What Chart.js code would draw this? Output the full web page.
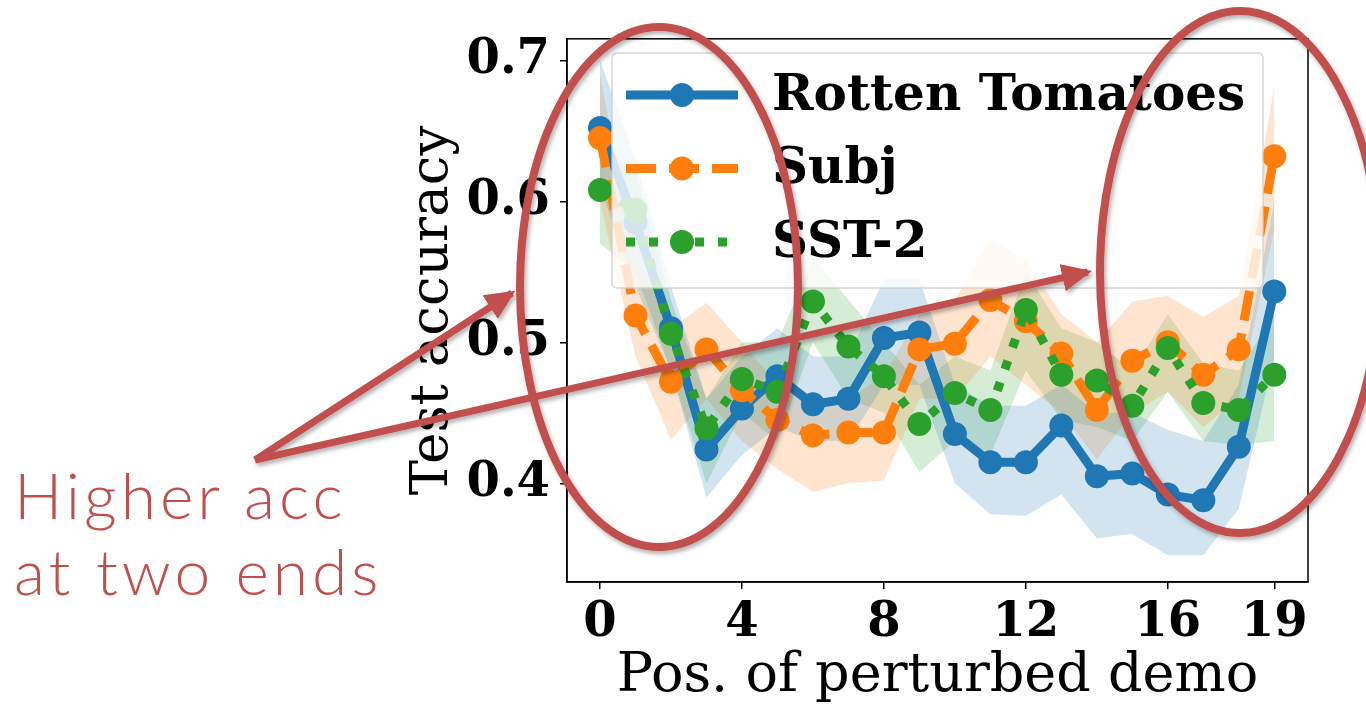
<!DOCTYPE html>
<html>
<head>
<meta charset="utf-8">
<script src="https://cdn.jsdelivr.net/npm/chart.js@4.4.1/dist/chart.umd.min.js"></script>
<style>
  html, body { margin: 0; padding: 0; background: #fff; }
  #wrap { position: relative; width: 1366px; height: 704px; overflow: hidden; }
  #accChart { position: absolute; left: 0; top: 0; }
  #notes { position: absolute; left: 0; top: 0; pointer-events: none; }
  #callout {
    position: absolute; left: 14px; top: 457px;
    font-family: "Lato", "Open Sans", sans-serif; font-weight: 300;
    font-size: 64px; line-height: 76px; letter-spacing: 4px;
    color: #C0504D; white-space: nowrap;
  }
</style>
</head>
<body>
<div id="wrap">
  <canvas id="accChart" width="1366" height="704"></canvas>
  <svg id="notes" width="1366" height="704">
    <defs>
      <filter id="shadow" x="-10%" y="-10%" width="120%" height="120%">
        <feDropShadow dx="2" dy="3" stdDeviation="2" flood-color="#000" flood-opacity="0.3"/>
      </filter>
      <marker id="head" markerUnits="userSpaceOnUse" markerWidth="30" markerHeight="28"
              refX="26" refY="14" orient="auto">
        <path d="M0,0 L30,14 L0,28 Z" fill="#C0504D"/>
      </marker>
    </defs>
    <g filter="url(#shadow)" fill="none" stroke="#C0504D">
      <ellipse cx="659" cy="287" rx="139" ry="260" stroke-width="8"/>
      <ellipse cx="1240" cy="272" rx="140" ry="261" stroke-width="8"/>
      <line x1="255" y1="460" x2="512" y2="293" stroke-width="7" marker-end="url(#head)"/>
      <line x1="255" y1="460" x2="1088" y2="272" stroke-width="7" marker-end="url(#head)"/>
    </g>
  </svg>
  <div id="callout">Higher acc<br>at two ends</div>
</div>
<script>
const positions = [0, 1, 2, 3, 4, 5, 6, 7, 8, 9, 10, 11, 12, 13, 14, 15, 16, 17, 18, 19];
const xTicks = [0, 4, 8, 12, 16, 19];
const yTicks = [0.4, 0.5, 0.6, 0.7];

const rottenTomatoes = [0.652, 0.585, 0.510, 0.424, 0.453, 0.476, 0.456, 0.460, 0.503, 0.507,
                        0.435, 0.415, 0.415, 0.441, 0.405, 0.407, 0.392, 0.388, 0.426, 0.536];
const rottenLow  = [0.610, 0.540, 0.480, 0.390, 0.420, 0.440, 0.430, 0.430, 0.470, 0.470,
                    0.400, 0.378, 0.377, 0.392, 0.361, 0.364, 0.349, 0.349, 0.382, 0.490];
const rottenHigh = [0.700, 0.630, 0.540, 0.460, 0.490, 0.510, 0.490, 0.490, 0.545, 0.545,
                    0.470, 0.455, 0.455, 0.470, 0.450, 0.450, 0.438, 0.430, 0.470, 0.600];

const subj = [0.645, 0.519, 0.472, 0.495, 0.466, 0.445, 0.434, 0.436, 0.436, 0.495,
              0.499, 0.530, 0.515, 0.492, 0.452, 0.487, 0.500, 0.477, 0.495, 0.632];
const subjLow  = [0.600, 0.490, 0.431, 0.460, 0.430, 0.410, 0.394, 0.400, 0.402, 0.460,
                  0.460, 0.490, 0.470, 0.450, 0.417, 0.450, 0.465, 0.440, 0.460, 0.580];
const subjHigh = [0.690, 0.560, 0.510, 0.528, 0.500, 0.470, 0.460, 0.460, 0.476, 0.520,
                  0.530, 0.573, 0.559, 0.520, 0.500, 0.529, 0.533, 0.518, 0.533, 0.682];

const sst2 = [0.608, 0.594, 0.506, 0.439, 0.474, 0.465, 0.529, 0.497, 0.476, 0.442,
              0.464, 0.452, 0.523, 0.477, 0.473, 0.455, 0.496, 0.457, 0.452, 0.477];
const sst2Low  = [0.570, 0.550, 0.480, 0.400, 0.450, 0.430, 0.500, 0.460, 0.450, 0.408,
                  0.430, 0.420, 0.480, 0.445, 0.440, 0.430, 0.465, 0.430, 0.427, 0.430];
const sst2High = [0.640, 0.620, 0.530, 0.460, 0.500, 0.500, 0.560, 0.530, 0.500, 0.470,
                  0.490, 0.480, 0.550, 0.510, 0.500, 0.480, 0.520, 0.485, 0.480, 0.520];

const BLUE = '#1f77b4', ORANGE = '#ff7f0e', GREEN = '#2ca02c';
const SERIF = '"DejaVu Serif", serif';

const pts = arr => arr.map((v, i) => ({ x: positions[i], y: v }));

function band(low, high, rgb) {
    return [
        { data: pts(low), borderWidth: 0, pointRadius: 0, fill: false, order: 10 },
        { data: pts(high), borderWidth: 0, pointRadius: 0, fill: '-1',
          backgroundColor: 'rgba(' + rgb + ',0.2)', order: 10 }
    ];
}

function series(label, values, color, dash, order) {
    return {
        label: label, data: pts(values), isSeries: true,
        borderColor: color, backgroundColor: color, borderWidth: 9,
        borderDash: dash, borderCapStyle: dash.length ? 'butt' : 'round', borderJoinStyle: 'round',
        pointRadius: 12, pointBorderWidth: 0, pointBackgroundColor: color,
        fill: false, tension: 0, order: order
    };
}

// box round the plot, like matplotlib spines
const frame = {
    id: 'frame',
    afterDatasetsDraw(chart) {
        const a = chart.chartArea, c = chart.ctx;
        c.save();
        c.strokeStyle = '#000';
        c.lineWidth = 1.5;
        c.strokeRect(a.left, a.top, a.right - a.left, a.bottom - a.top);
        c.restore();
    }
};

// legend drawn inside the plot, semi transparent like the original
const boxLegend = {
    id: 'boxLegend',
    afterDatasetsDraw(chart) {
        const c = chart.ctx;
        const x0 = 612, y0 = 53, w = 651, h = 235;
        c.save();
        c.beginPath();
        c.roundRect(x0, y0, w, h, 5);
        c.fillStyle = 'rgba(255,255,255,0.8)';
        c.fill();
        c.strokeStyle = 'rgba(204,204,204,0.8)';
        c.lineWidth = 1.5;
        c.stroke();
        const rows = chart.data.datasets.filter(d => d.isSeries);
        rows.forEach((d, i) => {
            const y = 95 + i * 73.5;
            c.strokeStyle = d.borderColor;
            c.lineWidth = d.borderWidth;
            c.lineCap = 'butt';
            c.setLineDash(d.borderDash);
            c.beginPath();
            c.moveTo(626, y);
            c.lineTo(738, y);
            c.stroke();
            c.setLineDash([]);
            c.fillStyle = d.borderColor;
            c.beginPath();
            c.arc(682, y, 12, 0, Math.PI * 2);
            c.fill();
            c.fillStyle = '#000';
            c.font = 'bold 50px ' + SERIF;
            c.textBaseline = 'middle';
            c.fillText(d.label, 772, y + 2);
        });
        c.restore();
    }
};

const ctx = document.getElementById('accChart').getContext('2d');
const accChart = new Chart(ctx, {
    type: 'line',
    data: {
        datasets: [
            ...band(rottenLow, rottenHigh, '31,119,180'),
            ...band(subjLow, subjHigh, '255,127,14'),
            ...band(sst2Low, sst2High, '44,160,44'),
            series('Rotten Tomatoes', rottenTomatoes, BLUE, [], 3),
            series('Subj', subj, ORANGE, [30, 13], 2),
            series('SST-2', sst2, GREEN, [9, 14], 1)
        ]
    },
    options: {
        responsive: false,
        animation: false,
        devicePixelRatio: 1,
        layout: { padding: { left: 0, right: 58, top: 29, bottom: 0 } },
        plugins: {
            legend: { display: false },
            tooltip: { enabled: false },
            filler: { drawTime: 'beforeDatasetsDraw' }
        },
        scales: {
            x: {
                type: 'linear', min: -0.93, max: 19.95,
                afterBuildTicks: s => { s.ticks = xTicks.map(v => ({ value: v })); },
                afterFit: s => { s.height = 122; },
                grid: { drawOnChartArea: false, drawTicks: true, tickLength: 7, color: '#000', lineWidth: 1.5 },
                border: { display: true, color: '#000', width: 1.5 },
                ticks: { color: '#000', padding: 6, maxRotation: 0, font: { family: SERIF, size: 48, weight: 'bold' } },
                title: { display: true, text: 'Pos. of perturbed demo', color: '#000',
                         font: { family: SERIF, size: 54, lineHeight: 1.0 }, padding: { top: 0, bottom: 0 } }
            },
            y: {
                type: 'linear', min: 0.33, max: 0.7153,
                afterBuildTicks: s => { s.ticks = yTicks.map(v => ({ value: v })); },
                afterFit: s => { s.width = 567; },
                grid: { drawOnChartArea: false, drawTicks: true, tickLength: 7, color: '#000', lineWidth: 1.5 },
                border: { display: true, color: '#000', width: 1.5 },
                ticks: { color: '#000', padding: 10, callback: v => v.toFixed(1),
                         font: { family: SERIF, size: 48, weight: 'bold' } },
                title: { display: true, text: 'Test accuracy', color: '#000',
                         font: { family: SERIF, size: 53 }, padding: { top: 401, bottom: 0 } }
            }
        }
    },
    plugins: [frame, boxLegend]
});
</script>
</body>
</html>
